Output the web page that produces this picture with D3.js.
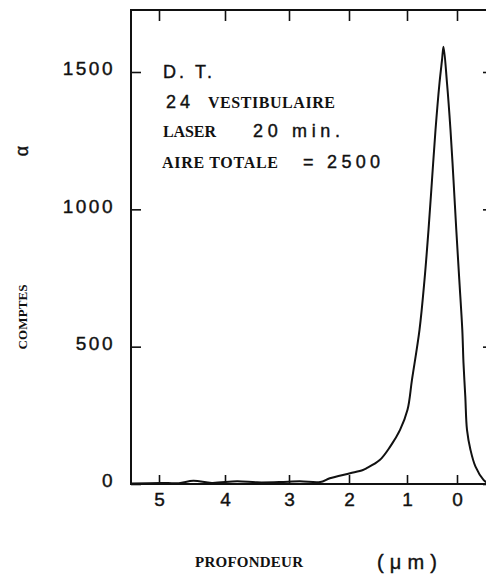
<!DOCTYPE html>
<html>
<head>
<meta charset="utf-8">
<script src="https://cdn.jsdelivr.net/npm/d3@7"></script>
<style>
  body { margin: 0; background: #fff; }
  .sans { font-family: "Liberation Sans", Arial, sans-serif; stroke: #111; stroke-width: 0.4px; }
  .serif { font-family: "Liberation Serif", "DejaVu Serif", serif; font-weight: bold; }
</style>
</head>
<body>
<div class="canvas"></div>
<script>

// depth calibration: depth marks (µm) and the energy channel where each falls
const depthTicks = [5, 4, 3, 2, 1, 0];
const channelAtTick = [28, 94, 158, 218, 276, 326];
const countTicks = [0, 500, 1000, 1500];

// profile
const depth = [5.42, 4.98, 4.70, 4.48, 4.20, 3.81, 3.50, 3.14, 2.82, 2.48, 2.32, 1.98, 1.76, 1.70, 1.47, 1.29, 1.12,
  0.99, 0.90, 0.75, 0.65, 0.57, 0.50, 0.43, 0.35, 0.30, 0.27, 0.20, 0.13, 0.07, 0.014, -0.046, -0.106,
  -0.13, -0.166, -0.20, -0.27, -0.37, -0.53, -0.62];
const counts = [2, 4, 3, 12, 4, 10, 6, 7, 10, 7, 21, 39, 51, 57, 87, 136, 197,
  270, 380, 561, 743, 925, 1107, 1289, 1460, 1543, 1592, 1460, 1289, 1107, 925, 743, 561,
  440, 318, 197, 124, 63, 15, 2];

const data = depth.map((d, i) => ({ depth: d, count: counts[i] }));

const width = 486, height = 575;
const frame = { left: 131, top: 10, right: 491, bottom: 484 };

const svg = d3.select('.canvas')
  .append('svg')
    .attr('width', width)
    .attr('height', height);

// channel -> pixel, then depth -> channel (non linear)
const xc = d3.scaleLinear().domain([0, 360]).range([frame.left, frame.right]);
const x = d3.scaleLinear().domain(depthTicks).range(channelAtTick.map(xc));
const y = d3.scaleLinear().domain([0, 1500]).range([frame.bottom, 72]);

// axes
const xAxisBottom = svg.append('g')
  .attr('transform', `translate(0, ${frame.bottom})`)
  .call(d3.axisBottom(x).tickValues(depthTicks).tickFormat(d3.format('d'))
    .tickSizeInner(-9).tickSizeOuter(0).tickPadding(9));

const xAxisTop = svg.append('g')
  .attr('transform', `translate(0, ${frame.top})`)
  .call(d3.axisTop(x).tickValues(depthTicks).tickSizeInner(-11).tickSizeOuter(0).tickFormat(''));

const yAxisLeft = svg.append('g')
  .attr('transform', `translate(${frame.left}, 0)`)
  .call(d3.axisLeft(y).tickValues(countTicks).tickFormat(d3.format('d'))
    .tickSizeInner(-10).tickSizeOuter(0).tickPadding(16));

const yAxisRight = svg.append('g')
  .attr('transform', `translate(${frame.right}, 0)`)
  .call(d3.axisRight(y).tickValues(countTicks).tickSizeInner(-8).tickSizeOuter(0).tickFormat(''));

[xAxisBottom, xAxisTop, yAxisLeft, yAxisRight].forEach(g => {
  g.select('.domain').remove();
  g.selectAll('line').attr('stroke', '#111').attr('stroke-width', 1.6);
  g.selectAll('text')
    .attr('class', 'sans')
    .attr('font-size', 19)
    .attr('fill', '#111')
    .attr('letter-spacing', 2.5);
});
yAxisLeft.selectAll('text').attr('dy', '0.15em');
xAxisBottom.selectAll('text').attr('dx', 1.2);

// frame
svg.append('rect')
  .attr('x', frame.left)
  .attr('y', frame.top)
  .attr('width', frame.right - frame.left)
  .attr('height', frame.bottom - frame.top)
  .attr('fill', 'none')
  .attr('stroke', '#111')
  .attr('stroke-width', 2);

// profile
const line = d3.line()
  .x(d => x(d.depth))
  .y(d => y(d.count))
  .curve(d3.curveCatmullRom.alpha(0.5));

svg.append('path')
  .datum(data)
  .attr('fill', 'none')
  .attr('stroke', '#111')
  .attr('stroke-width', 2)
  .attr('stroke-linejoin', 'round')
  .attr('d', line);

// annotations
const notes = [
  { t: 'D. T.', c: 'sans', s: 18, x: 163, y: 78, w: 49 },
  { t: '24', c: 'sans', s: 18, x: 166, y: 108, w: 24 },
  { t: 'VESTIBULAIRE', c: 'serif', s: 16, x: 208, y: 108, w: 127 },
  { t: 'LASER', c: 'serif', s: 16, x: 163, y: 137, w: 53 },
  { t: '20 min.', c: 'sans', s: 18, x: 253, y: 137, w: 87 },
  { t: 'AIRE TOTALE', c: 'serif', s: 16, x: 162, y: 168, w: 116 },
  { t: '= 2500', c: 'sans', s: 18, x: 303, y: 168, w: 77 },
  { t: 'PROFONDEUR', c: 'serif', s: 15, x: 195, y: 567, w: 108 },
  { t: '(μm)', c: 'sans', s: 20, x: 377, y: 569, w: 60 }
];

svg.selectAll('text.note')
  .data(notes)
  .enter()
  .append('text')
    .attr('class', d => 'note ' + d.c)
    .attr('x', d => d.x)
    .attr('y', d => d.y)
    .attr('font-size', d => d.s)
    .attr('fill', '#111')
    .attr('textLength', d => d.w)
    .attr('lengthAdjust', 'spacing')
    .text(d => d.t);

svg.append('text')
  .attr('class', 'serif')
  .attr('transform', 'translate(27, 317) rotate(-90)')
  .attr('text-anchor', 'middle')
  .attr('font-size', 13)
  .attr('fill', '#111')
  .attr('textLength', 65)
  .attr('lengthAdjust', 'spacing')
  .text('COMPTES');

svg.append('text')
  .attr('class', 'sans')
  .attr('transform', 'translate(28, 151) rotate(-90)')
  .attr('text-anchor', 'middle')
  .attr('font-size', 18)
  .attr('fill', '#111')
  .text('α');

</script>
</body>
</html>
